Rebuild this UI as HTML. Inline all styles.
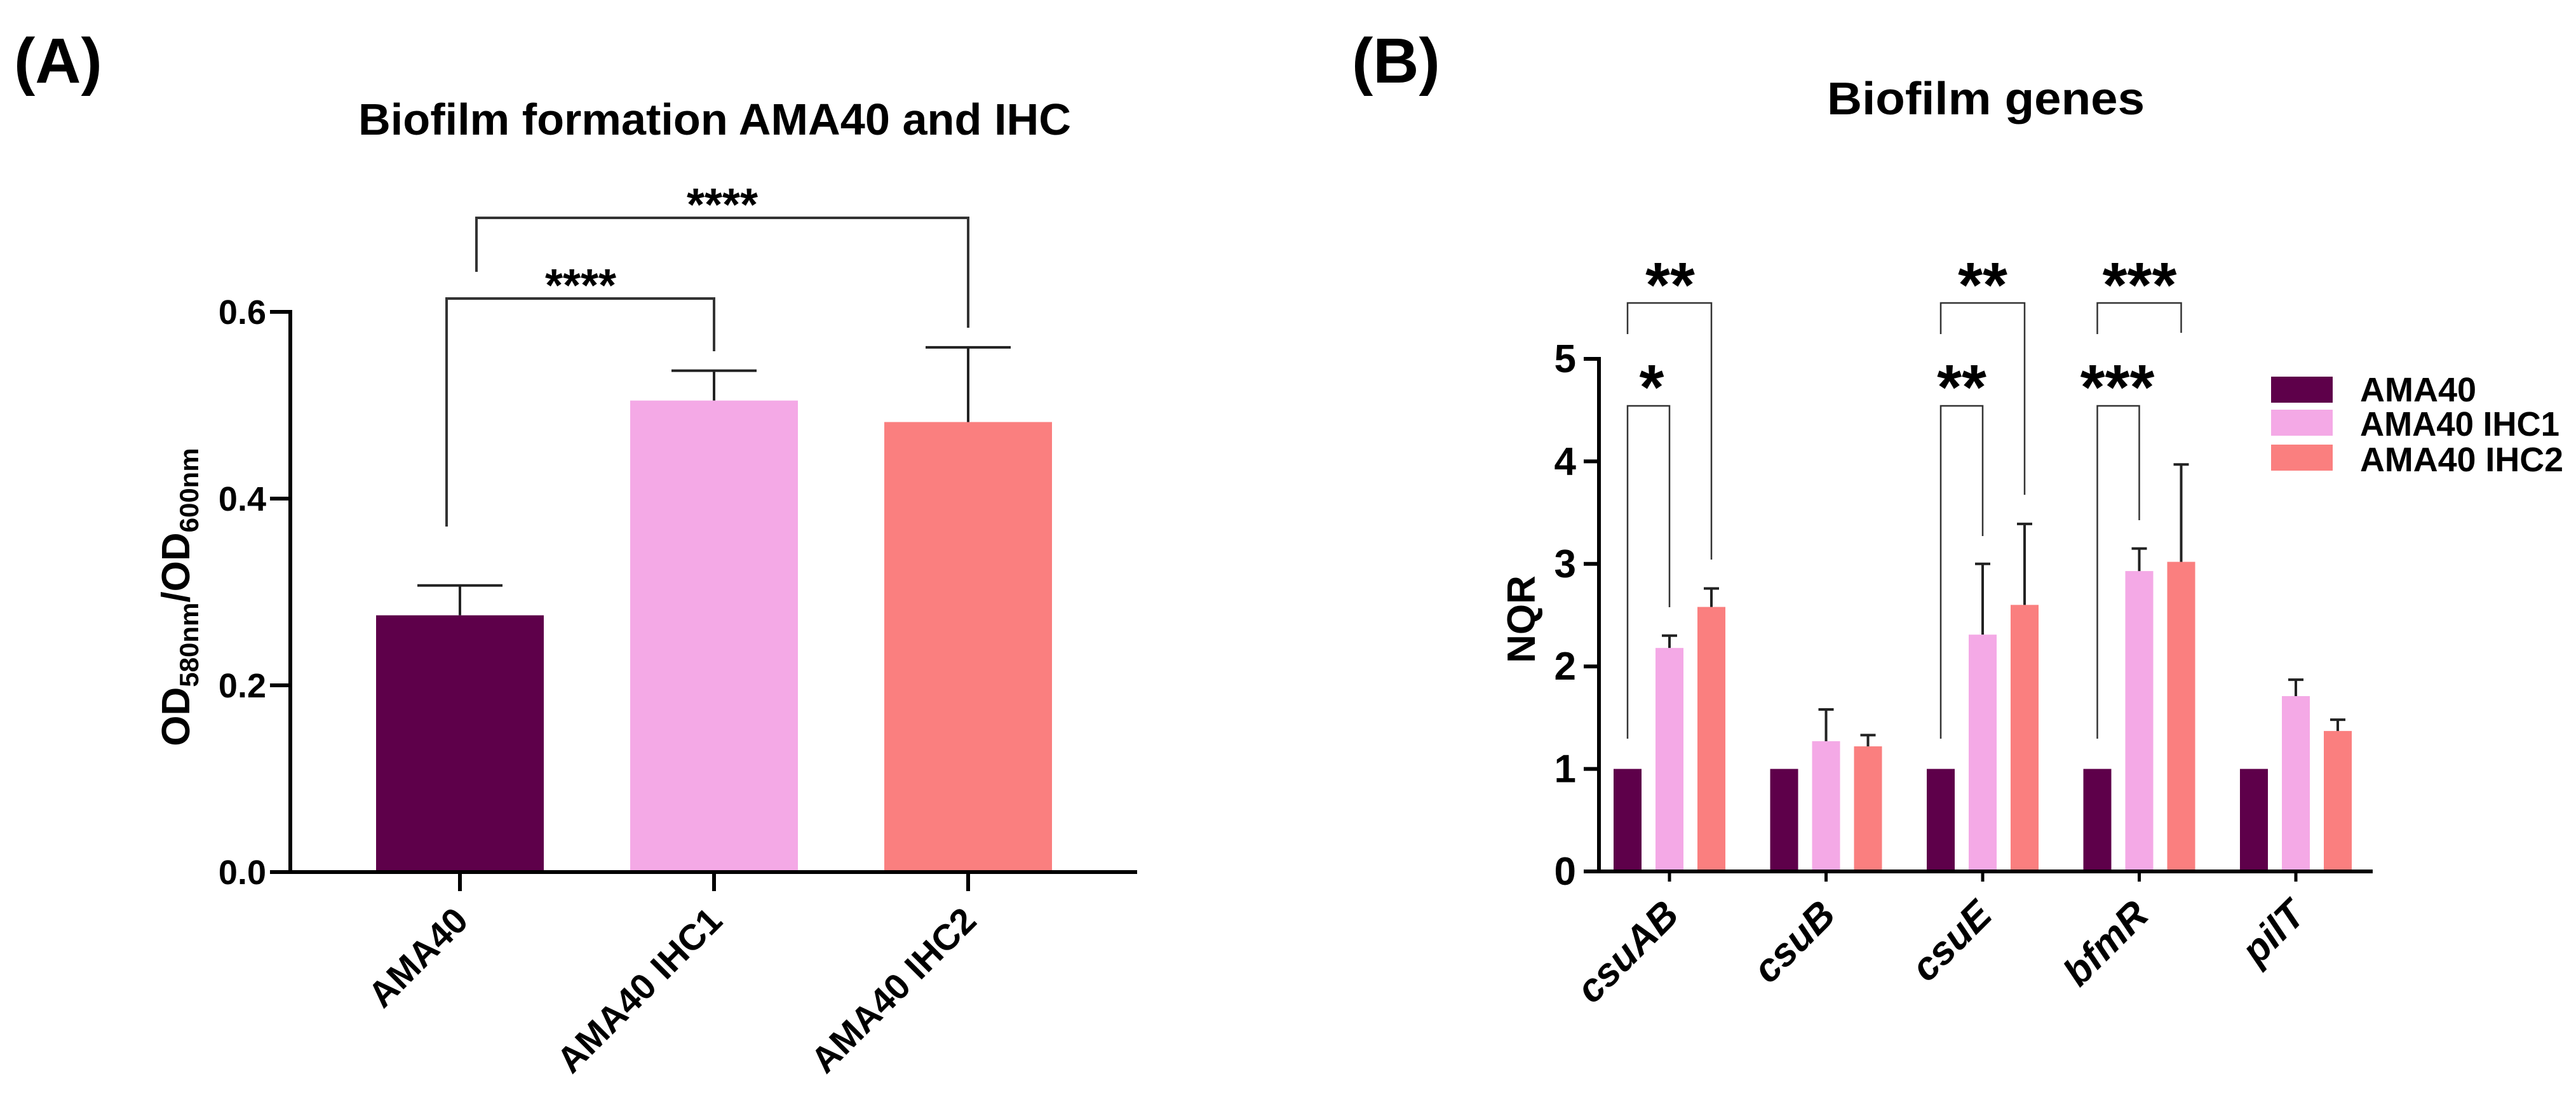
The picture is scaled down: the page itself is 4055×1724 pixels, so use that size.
<!DOCTYPE html>
<html><head><meta charset="utf-8"><style>
html,body{margin:0;padding:0;background:#fff;}
svg{display:block;font-family:"Liberation Sans",Arial,sans-serif;font-weight:bold;}
</style></head><body>
<svg id="fig" width="4055" height="1724" viewBox="0 0 4055 1724" xmlns="http://www.w3.org/2000/svg">
<text x="22" y="130" font-size="100">(A)</text>
<text x="2128" y="130" font-size="100">(B)</text>
<text x="564" y="212" font-size="70" textLength="1122" lengthAdjust="spacingAndGlyphs">Biofilm formation AMA40 and IHC</text>
<text x="2876" y="180" font-size="72" textLength="500" lengthAdjust="spacingAndGlyphs">Biofilm genes</text>
<text transform="translate(298,940) rotate(-90)" font-size="62" text-anchor="middle">OD<tspan font-size="42" dy="14">580nm</tspan><tspan dy="-14">/OD</tspan><tspan font-size="42" dy="14">600nm</tspan></text>
<text transform="translate(2416,975) rotate(-90)" font-size="62" text-anchor="middle">NQR</text>
<g id="ga"></g>
<g id="gb"></g>
<g>
<g><rect x="3575" y="593" width="97" height="41" fill="#5e004a"/><text x="3715" y="632" font-size="54" textLength="183" lengthAdjust="spacingAndGlyphs">AMA40</text></g>
<g><rect x="3575" y="645" width="97" height="41" fill="#f4a9e6"/><text x="3715" y="686" font-size="54" textLength="314" lengthAdjust="spacingAndGlyphs">AMA40 IHC1</text></g>
<g><rect x="3575" y="700" width="97" height="41" fill="#fa7f7f"/><text x="3715" y="742" font-size="54" textLength="320" lengthAdjust="spacingAndGlyphs">AMA40 IHC2</text></g>
</g>
</svg>
<script>
const aCategories = ["AMA40", "AMA40 IHC1", "AMA40 IHC2"];
const aValues = [0.275, 0.505, 0.482];
const aErrors = [0.032, 0.032, 0.080];
const aTicks = [0.0, 0.2, 0.4, 0.6];
const aTickLabels = ["0.0", "0.2", "0.4", "0.6"];

const bGenes = ["csuAB", "csuB", "csuE", "bfmR", "pilT"];
const bSeries = ["AMA40", "AMA40 IHC1", "AMA40 IHC2"];
const bAMA40 = [1, 1, 1, 1, 1];
const bIHC1 = [2.18, 1.27, 2.31, 2.93, 1.71];
const bIHC2 = [2.58, 1.22, 2.60, 3.02, 1.37];
const bErrAMA40 = [0, 0, 0, 0, 0];
const bErrIHC1 = [0.12, 0.31, 0.69, 0.22, 0.16];
const bErrIHC2 = [0.18, 0.11, 0.79, 0.95, 0.11];
const bTicks = [0, 1, 2, 3, 4, 5];

const NS = "http://www.w3.org/2000/svg";
const colors = ["#5e004a", "#f4a9e6", "#fa7f7f"];
function mk(parent, tag, attrs, text) {
  const e = document.createElementNS(NS, tag);
  for (const k in attrs) e.setAttribute(k, attrs[k]);
  if (text !== undefined) e.textContent = text;
  parent.appendChild(e);
  return e;
}

// ---------- Panel A ----------
const ga = document.getElementById("ga");
const aX0 = 457, aX1 = 1790, aY0 = 1373, aY1 = 491;
const ay = v => aY0 - (v / 0.6) * (aY0 - aY1);
const ax = i => 724 + i * 400;
const aBarW = 264;
aValues.forEach((v, i) => {
  const r = mk(ga, "rect", {x: ax(i) - aBarW / 2, y: ay(v), width: aBarW, height: aY0 - ay(v), fill: colors[i]});
  
  
  const e = mk(ga, "path", {d: `M${ax(i)},${ay(v)}V${ay(v + aErrors[i])}M${ax(i) - 67},${ay(v + aErrors[i])}H${ax(i) + 67}`, stroke: "#222", "stroke-width": 4, fill: "none"});
  
  
  const tk = mk(ga, "line", {x1: ax(i), x2: ax(i), y1: aY0, y2: aY0 + 30, stroke: "#000", "stroke-width": 6});
  
  
  const lb = mk(ga, "text", {transform: `translate(${ax(i) + 16},${aY0 + 80}) rotate(-45)`, "font-size": 57, "text-anchor": "end"}, aCategories[i]);
  
  
});
const axA = mk(ga, "path", {d: `M${aX0},${aY1 - 3}V${aY0}H${aX1}`, stroke: "#000", "stroke-width": 6, fill: "none"});


aTicks.forEach((t, i) => {
  const l = mk(ga, "line", {x1: aX0 - 32, x2: aX0, y1: ay(t), y2: ay(t), stroke: "#000", "stroke-width": 6});
  
  
  const tx = mk(ga, "text", {x: aX0 - 38, y: ay(t) + 19, "font-size": 54, "text-anchor": "end"}, aTickLabels[i]);
  
  
});
function bracket(g, x1, x2, yTop, y1, y2, w) {
  const p = mk(g, "path", {d: `M${x1},${y1}V${yTop}H${x2}V${y2}`, stroke: "#333", "stroke-width": w, fill: "none"});
  
  
}
function stars(g, x, yc, s, size) {
  const t = mk(g, "text", {x: x, y: yc + size * 0.6, "font-size": size, "text-anchor": "middle"}, s);
  
  
}
bracket(ga, 703, ax(1), 470, 829, 553, 4);
stars(ga, 914, 431, "****", 72);
bracket(ga, 750, ax(2), 343, 428, 516, 4);
stars(ga, 1137, 304, "****", 72);

// ---------- Panel B ----------
const gb = document.getElementById("gb");
const bX0 = 2517, bX1 = 3735, bY0 = 1372, bY1 = 565;
const by = v => bY0 - (v / 5) * (bY0 - bY1);
const groupX = i => 2628 + i * 246.5;
const bx = (g, s) => groupX(g) + (s - 1) * 66;
const bBarW = 44;
const bVals = [bAMA40, bIHC1, bIHC2];
const bErrs = [bErrAMA40, bErrIHC1, bErrIHC2];
bGenes.forEach((gname, g) => {
  for (let s = 0; s < 3; s++) {
    const v = bVals[s][g], x = bx(g, s);
    const r = mk(gb, "rect", {x: x - bBarW / 2, y: by(v), width: bBarW, height: bY0 - by(v), fill: colors[s]});
    
    
    if (bErrs[s][g] > 0) {
      const top = by(v + bErrs[s][g]);
      const e = mk(gb, "path", {d: `M${x},${by(v)}V${top}M${x - 12},${top}H${x + 12}`, stroke: "#222", "stroke-width": 4, fill: "none"});
      
      
    }
  }
  const tk = mk(gb, "line", {x1: groupX(g), x2: groupX(g), y1: bY0, y2: bY0 + 16, stroke: "#000", "stroke-width": 5});
  
  
  const lb = mk(gb, "text", {transform: `translate(${groupX(g) + 18},${bY0 + 72}) rotate(-45)`, "font-size": 62, "font-style": "italic", "text-anchor": "end"}, gname);
  
  
});
const axB = mk(gb, "path", {d: `M${bX0},${bY1 - 3}V${bY0}H${bX1}`, stroke: "#000", "stroke-width": 6, fill: "none"});


bTicks.forEach(t => {
  const l = mk(gb, "line", {x1: bX0 - 24, x2: bX0, y1: by(t), y2: by(t), stroke: "#000", "stroke-width": 6});
  
  
  const tx = mk(gb, "text", {x: bX0 - 36, y: by(t) + 21, "font-size": 62, "text-anchor": "end"}, String(t));
  
  
});
// csuAB
bracket(gb, bx(0, 0), bx(0, 1), 639, 1163, 956, 2.5);
stars(gb, 2600, 584, "*", 100);
bracket(gb, bx(0, 0), bx(0, 2), 477, 526, 881, 2.5);
stars(gb, 2629, 423, "**", 100);
// csuE
bracket(gb, bx(2, 0), bx(2, 1), 639, 1163, 844, 2.5);
stars(gb, 3088, 584, "**", 100);
bracket(gb, bx(2, 0), bx(2, 2), 477, 526, 779, 2.5);
stars(gb, 3121, 423, "**", 100);
// bfmR
bracket(gb, bx(3, 0), bx(3, 1), 639, 1163, 819, 2.5);
stars(gb, 3333, 584, "***", 100);
bracket(gb, bx(3, 0), bx(3, 2), 477, 526, 524, 2.5);
stars(gb, 3368, 423, "***", 100);
</script>
</body></html>
